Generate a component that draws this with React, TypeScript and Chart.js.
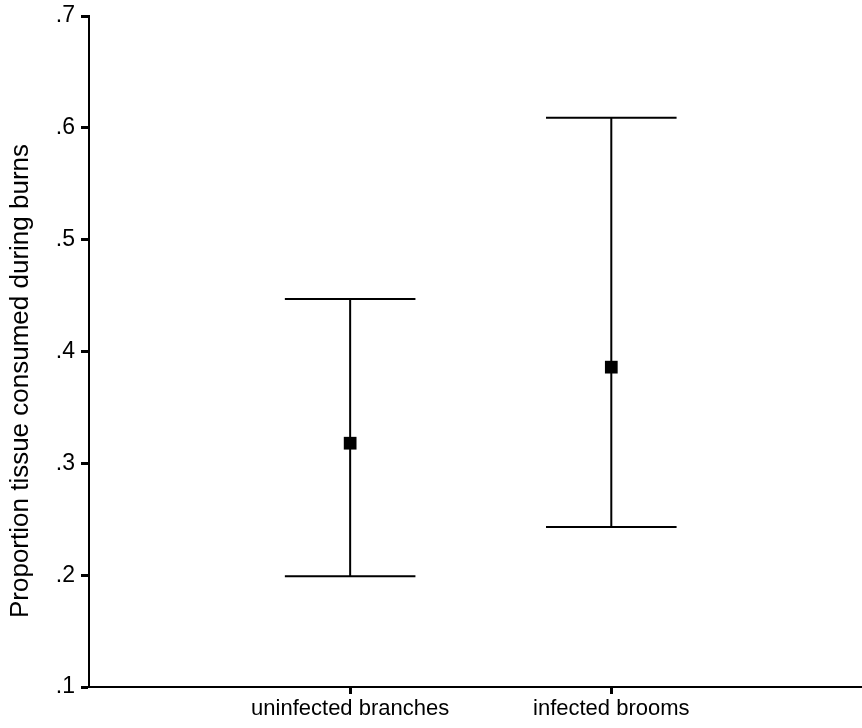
import React, { useEffect, useRef } from "react";
import { Chart, registerables } from "chart.js";

Chart.register(...registerables);

const categories = ["uninfected branches", "infected brooms"];
const xPositions = [1, 2];
const means = [0.318, 0.386];
const upperBounds = [0.447, 0.609];
const lowerBounds = [0.199, 0.243];
const yTicks = [0.1, 0.2, 0.3, 0.4, 0.5, 0.6, 0.7];
const yTitle = "Proportion tissue consumed during burns";

const FONT = "'Liberation Sans', Arial, sans-serif";
const CAP_HALF = 0.25;

const errorBarPlugin = {
  id: "errorBars",
  beforeDatasetsDraw(chart: any) {
    const { ctx, scales } = chart;
    const xs = scales.x;
    const ys = scales.y;
    ctx.save();
    ctx.strokeStyle = "#000";
    ctx.lineWidth = 2;
    ctx.lineCap = "butt";
    for (let i = 0; i < xPositions.length; i++) {
      const x = xs.getPixelForValue(xPositions[i]);
      const yu = ys.getPixelForValue(upperBounds[i]);
      const yl = ys.getPixelForValue(lowerBounds[i]);
      const xl = xs.getPixelForValue(xPositions[i] - CAP_HALF);
      const xr = xs.getPixelForValue(xPositions[i] + CAP_HALF);
      ctx.beginPath();
      ctx.moveTo(x, yu);
      ctx.lineTo(x, yl);
      ctx.moveTo(xl, yu);
      ctx.lineTo(xr, yu);
      ctx.moveTo(xl, yl);
      ctx.lineTo(xr, yl);
      ctx.stroke();
    }
    ctx.restore();
  },
};

const titlePlugin = {
  id: "yTitle",
  afterDraw(chart: any) {
    const { ctx } = chart;
    ctx.save();
    ctx.translate(21, 381);
    ctx.rotate(-Math.PI / 2);
    ctx.textAlign = "center";
    ctx.textBaseline = "middle";
    ctx.fillStyle = "#000";
    ctx.font = `26px ${FONT}`;
    ctx.fillText(yTitle, 0, 0);
    ctx.restore();
  },
};

export default function App() {
  const ref = useRef<HTMLCanvasElement | null>(null);

  useEffect(() => {
    if (!ref.current) return;
    const chart = new Chart(ref.current, {
      type: "scatter",
      data: {
        datasets: [
          {
            data: xPositions.map((x, i) => ({ x, y: means[i] })),
            pointStyle: "rect",
            pointRadius: 9,
            pointHoverRadius: 9,
            backgroundColor: "#000",
            borderColor: "#000",
            borderWidth: 0,
          },
        ],
      },
      options: {
        animation: false,
        responsive: false,
        layout: { autoPadding: false, padding: { left: 0, top: 16, right: 0, bottom: 0 } },
        plugins: { legend: { display: false }, tooltip: { enabled: false } },
        scales: {
          x: {
            type: "linear",
            min: 0,
            max: 2.96,
            afterBuildTicks: (s: any) => {
              s.ticks = xPositions.map((v) => ({ value: v }));
            },
            afterFit: (s: any) => {
              s.height = 41;
              s.paddingLeft = 0;
              s.paddingRight = 0;
            },
            ticks: {
              autoSkip: false,
              maxRotation: 0,
              padding: 2,
              color: "#000",
              font: { family: FONT, size: 22 },
              callback: (v: any) => {
                const i = xPositions.indexOf(Number(v));
                return i >= 0 ? categories[i] : "";
              },
            },
            grid: {
              drawOnChartArea: false,
              drawTicks: true,
              tickLength: 7,
              tickWidth: 3,
              tickColor: "#000",
            },
            border: { display: true, color: "#000", width: 2 },
          },
          y: {
            type: "linear",
            min: 0.1,
            max: 0.7,
            afterBuildTicks: (s: any) => {
              s.ticks = yTicks.map((v) => ({ value: v }));
            },
            afterFit: (s: any) => {
              s.width = 89;
              s.paddingTop = 0;
              s.paddingBottom = 0;
            },
            ticks: {
              padding: 6,
              color: "#000",
              font: { family: FONT, size: 23 },
              callback: (v: any) => "." + Math.round(Number(v) * 10),
            },
            grid: {
              drawOnChartArea: false,
              drawTicks: true,
              tickLength: 8,
              tickWidth: 3,
              tickColor: "#000",
            },
            border: { display: true, color: "#000", width: 2 },
          },
        },
      },
      plugins: [errorBarPlugin, titlePlugin],
    });
    return () => chart.destroy();
  }, []);

  return (
    <div style={{ position: "fixed", left: 0, top: 0, width: 862, height: 728, background: "#fff" }}>
      <canvas ref={ref} width={862} height={728} style={{ width: 862, height: 728 }} />
    </div>
  );
}
